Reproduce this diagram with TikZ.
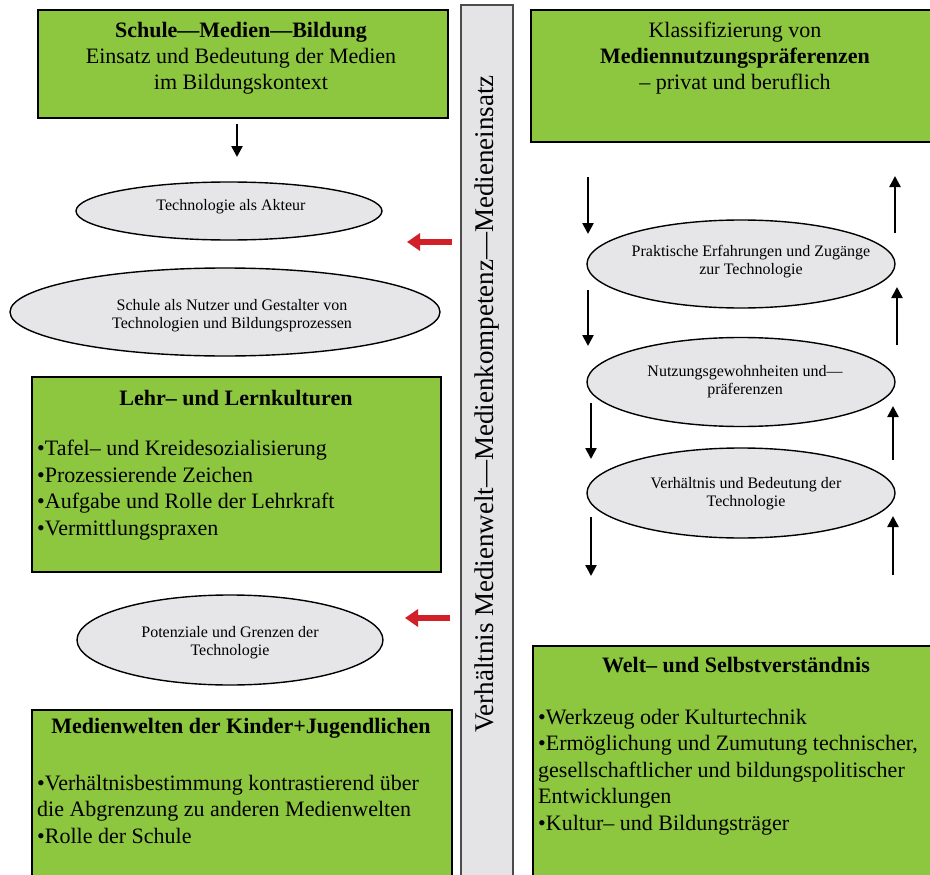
\documentclass[tikz,border=0pt]{standalone}
\usepackage{fontspec}
\setmainfont{Liberation Serif}
\usetikzlibrary{arrows.meta,shapes.geometric}
\definecolor{boxgreen}{RGB}{141,198,63}
\definecolor{ellgray}{RGB}{230,230,233}
\definecolor{bargray}{RGB}{228,228,230}
\definecolor{arrred}{RGB}{210,32,40}
\begin{document}
\begin{tikzpicture}[x=1pt,y=-1pt,
  greenbox/.style={draw=black, line width=1.4pt, fill=boxgreen, inner sep=0pt},
  ell/.style={ellipse, draw=black, line width=1.4pt, fill=ellgray, inner sep=0pt},
  bigtext/.style={inner sep=0pt, align=center, font=\fontsize{22}{26}\selectfont},
  bullettext/.style={inner sep=0pt, align=left, anchor=west, font=\fontsize{22}{26.5}\selectfont},
  elltext/.style={inner sep=0pt, align=center, font=\fontsize{16}{18}\selectfont},
  blackarrow/.style={line width=2.4pt, -{Triangle[length=11pt,width=11pt]}},
  redarrow/.style={line width=6pt, draw=arrred, -{Triangle[length=13pt,width=17pt]}}
]
\useasboundingbox (0,0) rectangle (930,875);

% middle bar
\node[draw=black!70, line width=1.2pt, fill=bargray, minimum width=52pt, minimum height=880pt, inner sep=0pt] (bar) at (487,445) {};
\node[inner sep=0pt, rotate=90, font=\fontsize{27}{30}\selectfont] (bartext) at (487,404) {Verhältnis Medienwelt—Medienkompetenz—Medieneinsatz};

% top-left box
\node[greenbox, minimum width=410pt, minimum height=108pt] (tl) at (243,64) {};
\node[bigtext] (tltext) at (241,58) {\textbf{Schule—Medien—Bildung}\\Einsatz und Bedeutung der Medien\\im Bildungskontext};

% top-right box
\node[greenbox, minimum width=409pt, minimum height=132pt] (tr) at (735.5,76) {};
\node[bigtext] (trtext) at (735,58) {Klassifizierung von\\\textbf{Mediennutzungspräferenzen}\\– privat und beruflich};

% left ellipses
\node[ell, minimum width=306pt, minimum height=58pt] (e1) at (229,211) {};
\node[elltext] (e1t) at (231,207) {Technologie als Akteur};
\node[ell, minimum width=430pt, minimum height=88pt] (e2) at (225,312) {};
\node[elltext] (e2t) at (232,316) {Schule als Nutzer und Gestalter von\\Technologien und Bildungsprozessen};
\node[ell, minimum width=306pt, minimum height=90pt] (e3) at (230,640) {};
\node[elltext] (e3t) at (230,643) {Potenziale und Grenzen der\\Technologie};

% Lehr box
\node[greenbox, minimum width=409pt, minimum height=195pt] (lehr) at (236.5,474.5) {};
\node[bigtext, font=\fontsize{22}{26}\bfseries] (lehrt) at (236,398) {Lehr– und Lernkulturen};
\node[bullettext] (lehrb) at (37,490) {•Tafel– und Kreidesozialisierung\\•Prozessierende Zeichen\\•Aufgabe und Rolle der Lehrkraft\\•Vermittlungspraxen};

% Medienwelten box
\node[greenbox, minimum width=420pt, minimum height=180pt] (mw) at (242,800) {};
\node[bigtext, font=\fontsize{22}{26}\bfseries] (mwt) at (241,728) {Medienwelten der Kinder+Jugendlichen};
\node[bullettext] (mwb) at (37,809) {•Verhältnisbestimmung kontrastierend über\\die Abgrenzung zu anderen Medienwelten\\•Rolle der Schule};

% right ellipses
\node[ell, minimum width=308pt, minimum height=88pt] (r1) at (741,264) {};
\node[elltext] (r1t) at (751,262) {Praktische Erfahrungen und Zugänge\\zur Technologie};
\node[ell, minimum width=308pt, minimum height=89pt] (r2) at (741,382) {};
\node[elltext] (r2t) at (745,382) {Nutzungsgewohnheiten und—\\präferenzen};
\node[ell, minimum width=308pt, minimum height=90pt] (r3) at (741,493) {};
\node[elltext] (r3t) at (746,494) {Verhältnis und Bedeutung der\\Technologie};

% Welt box
\node[greenbox, minimum width=407pt, minimum height=234pt] (welt) at (736.5,763) {};
\node[bigtext, font=\fontsize{22}{26}\bfseries] (weltt) at (736,665) {Welt– und Selbstverständnis};
\node[bullettext] (weltb) at (538,772) {•Werkzeug oder Kulturtechnik\\•Ermöglichung und Zumutung technischer,\\gesellschaftlicher und bildungspolitischer\\Entwicklungen\\•Kultur– und Bildungsträger};

% arrow coordinates
\coordinate (a0s) at (237,124); \coordinate (a0e) at (237,157);
\coordinate (d1s) at (588,177); \coordinate (d1e) at (588,234);
\coordinate (d2s) at (588,290); \coordinate (d2e) at (588,346);
\coordinate (d3s) at (591,403); \coordinate (d3e) at (591,459);
\coordinate (d4s) at (591,517); \coordinate (d4e) at (591,576);
\coordinate (u1s) at (895,233); \coordinate (u1e) at (895,176);
\coordinate (u2s) at (897,345); \coordinate (u2e) at (897,287);
\coordinate (u3s) at (893,460); \coordinate (u3e) at (893,406);
\coordinate (u4s) at (893,575); \coordinate (u4e) at (893,516);
\coordinate (rA) at (452,242); \coordinate (rAe) at (407,242);
\coordinate (rB) at (450,618); \coordinate (rBe) at (405,618);

\draw[blackarrow] (a0s) -- (a0e);
\foreach \n in {d1,d2,d3,d4,u1,u2,u3,u4} \draw[blackarrow] (\n s) -- (\n e);
\draw[redarrow] (rA) -- (rAe);
\draw[redarrow] (rB) -- (rBe);
\end{tikzpicture}
\end{document}
